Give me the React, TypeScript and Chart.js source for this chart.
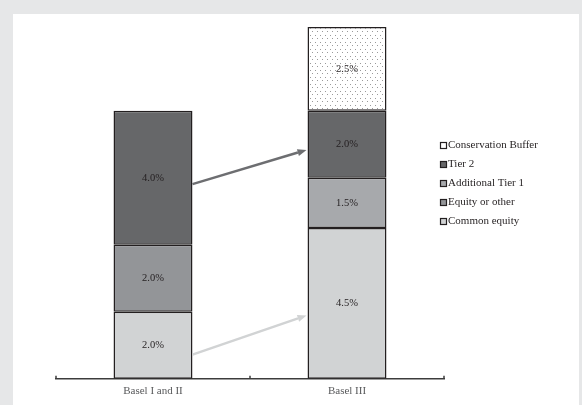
import React, { useEffect, useRef } from 'react';
import { Chart, registerables } from 'chart.js';

Chart.register(...registerables);

const categories = ['Basel I and II', 'Basel III'];
const commonEquity: (number | null)[] = [2.0, 4.5];
const equityOrOther: (number | null)[] = [2.0, null];
const additionalTier1: (number | null)[] = [null, 1.5];
const tier2: (number | null)[] = [4.0, 2.0];
const conservationBuffer: (number | null)[] = [null, 2.5];
const seriesNames = ['Common equity', 'Equity or other', 'Additional Tier 1', 'Tier 2', 'Conservation Buffer'];
const seriesColors = ['#d1d3d4', '#939598', '#a7a9ac', '#666769', '#ffffff'];

// arrows: [start value on Basel I and II, end value on Basel III]
const arrowStartValues = [5.81, 0.72];
const arrowEndValues = [6.83, 1.89];
const arrowColors = ['#6d6e71', '#d1d3d4'];

const FONT = '"Liberation Serif", "Times New Roman", serif';

function makeDots(): CanvasPattern | string {
  const c = document.createElement('canvas');
  c.width = 5;
  c.height = 7;
  const g = c.getContext('2d');
  if (!g) return '#ffffff';
  g.fillStyle = '#ffffff';
  g.fillRect(0, 0, 5, 7);
  g.fillStyle = '#9a9a9a';
  g.fillRect(0, 0, 1, 1);
  g.fillRect(2, 3, 1, 1);
  return g.createPattern(c, 'repeat') || '#ffffff';
}

const bgPlugin = {
  id: 'bgPlugin',
  beforeDraw(chart: any) {
    const ctx = chart.ctx;
    ctx.save();
    ctx.fillStyle = '#e6e7e8';
    ctx.fillRect(0, 0, chart.width, chart.height);
    ctx.fillStyle = '#ffffff';
    ctx.fillRect(13, 14, 566, chart.height - 14);
    ctx.restore();
  },
};

const overlayPlugin = {
  id: 'overlayPlugin',
  afterDatasetsDraw(chart: any) {
    const ctx = chart.ctx;
    const xs = chart.scales.x;
    const ys = chart.scales.y;
    ctx.save();
    // value labels
    ctx.font = `10.5px ${FONT}`;
    ctx.fillStyle = '#231f20';
    ctx.textAlign = 'center';
    ctx.textBaseline = 'middle';
    chart.data.datasets.forEach((ds: any, i: number) => {
      const meta = chart.getDatasetMeta(i);
      meta.data.forEach((el: any, j: number) => {
        const v = ds.data[j];
        if (v == null) return;
        const p = el.getProps(['x', 'y', 'base'], true);
        ctx.fillText(v.toFixed(1) + '%', p.x, (p.y + p.base) / 2);
      });
    });

    // axis ticks (pointing up)
    ctx.strokeStyle = '#3c3c3c';
    ctx.lineWidth = 1.5;
    const yb = xs.top;
    const tickXs = [xs.left, xs.getPixelForValue(0.5), xs.right];
    tickXs.forEach((tx: number) => {
      ctx.beginPath();
      ctx.moveTo(tx, yb);
      ctx.lineTo(tx, yb - 3);
      ctx.stroke();
    });

    // arrows
    const meta = chart.getDatasetMeta(0);
    const e0 = meta.data[0].getProps(['x', 'width'], true);
    const e1 = meta.data[1].getProps(['x', 'width'], true);
    const x1 = e0.x + e0.width / 2;
    const x2 = e1.x - e1.width / 2 - 1;
    arrowStartValues.forEach((sv, k) => {
      const y1 = ys.getPixelForValue(sv);
      const y2 = ys.getPixelForValue(arrowEndValues[k]);
      const ang = Math.atan2(y2 - y1, x2 - x1);
      const hl = 9;
      const hw = 3.5;
      const bx = x2 - hl * Math.cos(ang);
      const by = y2 - hl * Math.sin(ang);
      ctx.strokeStyle = arrowColors[k];
      ctx.fillStyle = arrowColors[k];
      ctx.lineWidth = 2.5;
      ctx.beginPath();
      ctx.moveTo(x1, y1);
      ctx.lineTo(bx, by);
      ctx.stroke();
      ctx.beginPath();
      ctx.moveTo(x2, y2);
      ctx.lineTo(bx + hw * Math.sin(ang), by - hw * Math.cos(ang));
      ctx.lineTo(bx - hw * Math.sin(ang), by + hw * Math.cos(ang));
      ctx.closePath();
      ctx.fill();
    });

    // legend
    ctx.font = `11px ${FONT}`;
    ctx.textAlign = 'left';
    ctx.textBaseline = 'middle';
    const n = chart.data.datasets.length;
    const lx = xs.right - 4;
    let ly = 145;
    for (let i = n - 1; i >= 0; i--) {
      ctx.fillStyle = seriesColors[i];
      ctx.fillRect(lx, ly - 3, 7, 7);
      ctx.strokeStyle = '#231f20';
      ctx.lineWidth = 1.2;
      ctx.strokeRect(lx + 0.5, ly - 2.5, 6, 6);
      ctx.fillStyle = '#231f20';
      ctx.fillText(chart.data.datasets[i].label, lx + 8, ly + 0.5);
      ly += 19;
    }
    ctx.restore();
  },
};

export default function App() {
  const ref = useRef<HTMLCanvasElement | null>(null);
  useEffect(() => {
    if (!ref.current) return;
    const dots = makeDots();
    const values = [commonEquity, equityOrOther, additionalTier1, tier2, conservationBuffer];
    const chart = new Chart(ref.current, {
      type: 'bar',
      data: {
        labels: categories,
        datasets: values.map((d, i) => ({
          label: seriesNames[i],
          data: d,
          backgroundColor: i === 4 ? dots : seriesColors[i],
          borderColor: '#231f20',
          borderWidth: 1.5,
          borderSkipped: false,
          categoryPercentage: 1,
          barPercentage: 0.407,
        })) as any,
      },
      options: {
        animation: false,
        responsive: false,
        devicePixelRatio: 1,
        layout: { padding: { left: 56, right: 138, top: 27, bottom: 1 } },
        plugins: { legend: { display: false }, tooltip: { enabled: false } },
        scales: {
          x: {
            stacked: true,
            grid: { display: false, drawTicks: false },
            border: { display: true, color: '#3c3c3c', width: 1.5 },
            ticks: { color: '#58595b', font: { family: FONT, size: 11 }, padding: 6 },
          },
          y: {
            stacked: true,
            display: false,
            min: 0,
            max: 10.5,
          },
        },
      },
      plugins: [bgPlugin, overlayPlugin],
    });
    return () => chart.destroy();
  }, []);
  return (
    <div style={{ position: 'fixed', left: 0, top: 0, width: 582, height: 405 }}>
      <canvas ref={ref} width={582} height={405} style={{ display: 'block' }} />
    </div>
  );
}
